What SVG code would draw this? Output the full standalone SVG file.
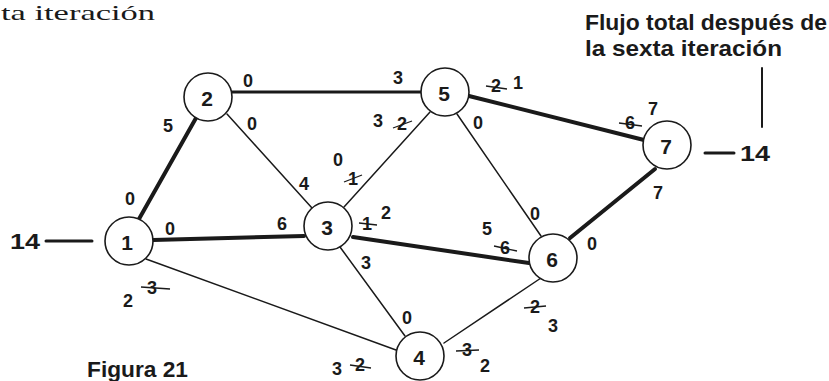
<svg xmlns="http://www.w3.org/2000/svg" width="829" height="381" viewBox="0 0 829 381">
<style>
.node circle{fill:#fff;stroke:#1a1a1a;stroke-width:1.6}
.node text{font-family:"Liberation Sans",Arial,sans-serif;font-size:21px;font-weight:bold;fill:#1a1a1a;text-anchor:middle;dominant-baseline:central}
.e{stroke:#1a1a1a;fill:none;stroke-linecap:round}
.thin{stroke-width:1.5}
.mid{stroke-width:3}
.thick{stroke-width:4}
.lb{font-family:"Liberation Sans",Arial,sans-serif;font-size:18px;font-weight:bold;fill:#1a1a1a;text-anchor:middle}
.st{stroke:#1a1a1a;stroke-width:1.3}
.hd{font-family:"Liberation Sans",Arial,sans-serif;font-size:22px;font-weight:bold;fill:#1a1a1a}
</style>
<rect width="829" height="381" fill="#fff"/>
<text x="1" y="20" font-family="'Liberation Serif',serif" font-size="21" fill="#1a1a1a" textLength="154" lengthAdjust="spacingAndGlyphs">ta iteración</text>
<text class="hd" x="585" y="30" textLength="242" lengthAdjust="spacingAndGlyphs">Flujo total después de</text>
<text class="hd" x="585" y="56" textLength="197" lengthAdjust="spacingAndGlyphs">la sexta  iteración</text>
<text class="hd" x="87" y="377" textLength="101" lengthAdjust="spacingAndGlyphs">Figura 21</text>
<g id="connectors">
<line class="e thick" x1="139" y1="219" x2="196" y2="118"/>
<line class="e mid" x1="231" y1="92" x2="421" y2="92"/>
<line class="e thin" x1="227" y1="114" x2="312" y2="208"/>
<line class="e thick" x1="153" y1="240" x2="304" y2="236"/>
<line class="e thin" x1="146" y1="259" x2="396" y2="350"/>
<line class="e thin" x1="344" y1="207" x2="430" y2="112"/>
<line class="e thick" x1="353" y1="237" x2="529" y2="263"/>
<line class="e thin" x1="340" y1="247" x2="405" y2="336"/>
<line class="e thin" x1="457" y1="114" x2="541" y2="236"/>
<line class="e thick" x1="469" y1="96" x2="644" y2="140"/>
<line class="e thick" x1="655" y1="169" x2="570" y2="238"/>
<line class="e thin" x1="541" y1="278" x2="444" y2="343"/>
<line class="e mid" x1="46" y1="241" x2="92" y2="241"/>
<line class="e mid" x1="705" y1="153" x2="734" y2="153"/>
<line class="e" stroke-width="2" x1="762" y1="68" x2="762" y2="127"/>
</g>
<text class="hd" x="10" y="249" textLength="30" lengthAdjust="spacingAndGlyphs">14</text>
<text class="hd" x="740" y="161" textLength="30" lengthAdjust="spacingAndGlyphs">14</text>
<g id="n1" class="node"><circle cx="129" cy="241" r="24"/><text x="127" y="242">1</text></g>
<g id="n2" class="node"><circle cx="208" cy="97" r="24"/><text x="207" y="98">2</text></g>
<g id="n3" class="node"><circle cx="328" cy="226" r="24"/><text x="327" y="227">3</text></g>
<g id="n4" class="node"><circle cx="420" cy="356" r="24"/><text x="419" y="357">4</text></g>
<g id="n5" class="node"><circle cx="445" cy="92" r="24"/><text x="444" y="93">5</text></g>
<g id="n6" class="node"><circle cx="553" cy="258" r="24"/><text x="552" y="259">6</text></g>
<g id="n7" class="node"><circle cx="667" cy="145" r="24"/><text x="666" y="146">7</text></g>
<g id="labels">
<text class="lb" x="248" y="87">0</text>
<text class="lb" x="398" y="84">3</text>
<text class="lb" x="168" y="132">5</text>
<text class="lb" x="252" y="130">0</text>
<text class="lb" x="378" y="127">3</text>
<text class="lb" x="402" y="130">2</text>
<line class="st" x1="393" y1="128" x2="412" y2="121"/>
<text class="lb" x="338" y="166">0</text>
<text class="lb" x="353" y="185">1</text>
<line class="st" x1="344" y1="182" x2="362" y2="175"/>
<text class="lb" x="304" y="190">4</text>
<text class="lb" x="496" y="92">2</text>
<line class="st" x1="486" y1="86" x2="507" y2="89"/>
<text class="lb" x="518" y="89">1</text>
<text class="lb" x="478" y="129">0</text>
<text class="lb" x="630" y="129">6</text>
<line class="st" x1="619" y1="123" x2="642" y2="126"/>
<text class="lb" x="653" y="115">7</text>
<text class="lb" x="658" y="199">7</text>
<text class="lb" x="535" y="220">0</text>
<text class="lb" x="487" y="235">5</text>
<text class="lb" x="505" y="254">6</text>
<line class="st" x1="494" y1="246" x2="517" y2="251"/>
<text class="lb" x="592" y="250">0</text>
<text class="lb" x="367" y="230">1</text>
<line class="st" x1="359" y1="223" x2="377" y2="225"/>
<text class="lb" x="386" y="219">2</text>
<text class="lb" x="282" y="230">6</text>
<text class="lb" x="366" y="269">3</text>
<text class="lb" x="130" y="205">0</text>
<text class="lb" x="170" y="235">0</text>
<text class="lb" x="128" y="307">2</text>
<text class="lb" x="152" y="294">3</text>
<line class="st" x1="141" y1="287" x2="170" y2="289"/>
<text class="lb" x="407" y="324">0</text>
<text class="lb" x="337" y="375">3</text>
<text class="lb" x="360" y="371">2</text>
<line class="st" x1="350" y1="365" x2="371" y2="368"/>
<text class="lb" x="467" y="356">3</text>
<line class="st" x1="456" y1="351" x2="479" y2="350"/>
<text class="lb" x="485" y="372">2</text>
<text class="lb" x="535" y="313">2</text>
<line class="st" x1="524" y1="308" x2="546" y2="306"/>
<text class="lb" x="553" y="332">3</text>
</g>
</svg>
